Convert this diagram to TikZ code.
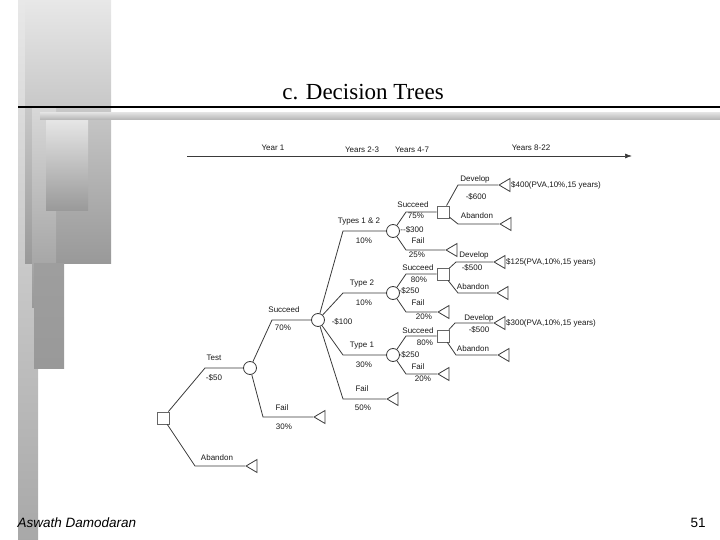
\documentclass[tikz,border=0pt]{standalone}
\usepackage{fontspec}
\setmainfont{Liberation Sans}
\newfontfamily\titlefont{Liberation Serif}
\usepackage{xcolor}
\usetikzlibrary{shapes.geometric,arrows.meta,positioning}
\definecolor{treeGray}{HTML}{3A3A3A}
\definecolor{boxGray}{HTML}{666666}
\definecolor{panelLight}{HTML}{E8E8E8}
\definecolor{panelDark}{HTML}{999999}
\tikzset{
  branch/.style={draw=treeGray,line width=0.8pt},
  decbox/.style={rectangle,draw=boxGray,fill=white,line width=0.8pt,minimum size=12pt,inner sep=0pt},
  chance/.style={circle,draw=treeGray,fill=white,line width=0.8pt,minimum size=13pt,inner sep=0pt},
  endtri/.style={isosceles triangle,isosceles triangle stretches,shape border rotate=180,
    draw=treeGray,line width=0.8pt,minimum width=13pt,minimum height=11pt,inner sep=0pt,anchor=apex},
  lbl/.style={font=\fontsize{8}{9}\selectfont,text=black!90,inner sep=0pt},
  pva/.style={lbl,anchor=west}
}
\begin{document}
\begin{tikzpicture}[x=1pt,y=-1pt]
\useasboundingbox(0,0)rectangle(720,540);
% slide decoration
\shade[top color=panelLight,bottom color=panelDark!85](18,0)rectangle(38,540);
\shade[top color=panelLight,bottom color=panelDark](25,0)rectangle(111,263);
\shade[top color=panelLight!80!panelDark,bottom color=panelDark](32,107)rectangle(56,307);
\shade[top color=panelDark!95,bottom color=panelDark](34,263)rectangle(64,368);
\shade[top color=panelLight,bottom color=panelDark](46,117)rectangle(88,211);
\draw[line width=1.6pt](18,107)--(720,107);
\shade[top color=gray!25,bottom color=gray!60](40,113)rectangle(720,120);
\node[font=\titlefont\fontsize{23}{26}\selectfont](title)at(363,92){c. Decision Trees};
\node[font=\itshape\fontsize{13.5}{15}\selectfont,anchor=west](author)at(14,523){Aswath Damodaran};
\node[font=\fontsize{13.5}{15}\selectfont](page)at(698,523){51};
% time line
\coordinate(tl0)at(187,156);
\coordinate(tl1)at(632,156);
\draw[treeGray,line width=0.7pt,-{Latex[length=7pt,width=5pt]}](tl0)--(tl1);
% decision and chance nodes
\node[decbox](d0)at(163,418){};
\foreach \n/\x/\y in{c1/250/368,c2/318/320,c3/393/231,c4/393/293,c5/393/355}
  \node[chance](\n)at(\x,\y){};
\foreach \n/\x/\y in{d1/443/212,d2/443/274,d3/443/336}
  \node[decbox](\n)at(\x,\y){};
% end points
\foreach \n/\x/\y in{t1/245/466,t2/313/417,t3/386/399,t4/445/250,t5/437/312,t6/437/374,
  t7/498/185,t8/499/224,t9/493/262,t10/496/293,t11/493/323,t12/497/355}
  \node[endtri](\n)at(\x,\y){};
% branches
\foreach \a/\b/\cx in{d0/c1/205,d0/t1/195,c1/c2/272,c1/t2/263,
  c2/c3/343,c2/c4/343,c2/c5/343,c2/t3/343,
  c3/d1/406,c3/t4/406,c4/d2/406,c4/t5/406,c5/d3/406,c5/t6/406,
  d1/t7/458,d1/t8/458,d2/t9/456,d2/t10/458,d3/t11/455,d3/t12/456}
  \draw[branch](\a)--(\cx,0|-\b)--(\b);
% labels
\foreach \x/\y/\t[count=\i]in{
  273/148/Year 1,362/150/Years 2-3,412/150/Years 4-7,531/148/Years 8-22,
  214/358/Test,214/378/-\$50,217/458/Abandon,284/310/Succeed,283/328/70\%,
  282/408/Fail,284/427/30\%,342/322/-\$100,
  359/222/Types 1 \& 2,364/241/10\%,362/284/Type 2,364/303/10\%,
  362/346/Type 1,364/365/30\%,362/389/Fail,363/408/50\%,
  412/230/-{}-\$300,409/291/-\$250,409/355/-\$250,
  413/205/Succeed,416/216/75\%,418/241/Fail,417/255/25\%,
  475/179/Develop,476/197/-\$600,477/216/Abandon,
  418/268/Succeed,419/280/80\%,418/303/Fail,424/317/20\%,
  474/255/Develop,472/268/-\$500,473/287/Abandon,
  418/331/Succeed,425/343/80\%,418/367/Fail,423/379/20\%,
  479/318/Develop,479/330/-\$500,473/349/Abandon}
  \node[lbl](lb\i)at(\x,\y){\t};
\node[pva](v1)at(511,185){\$400(PVA,10\%,15 years)};
\node[pva](v2)at(506,262){\$125(PVA,10\%,15 years)};
\node[pva](v3)at(506,323){\$300(PVA,10\%,15 years)};
\end{tikzpicture}
\end{document}
